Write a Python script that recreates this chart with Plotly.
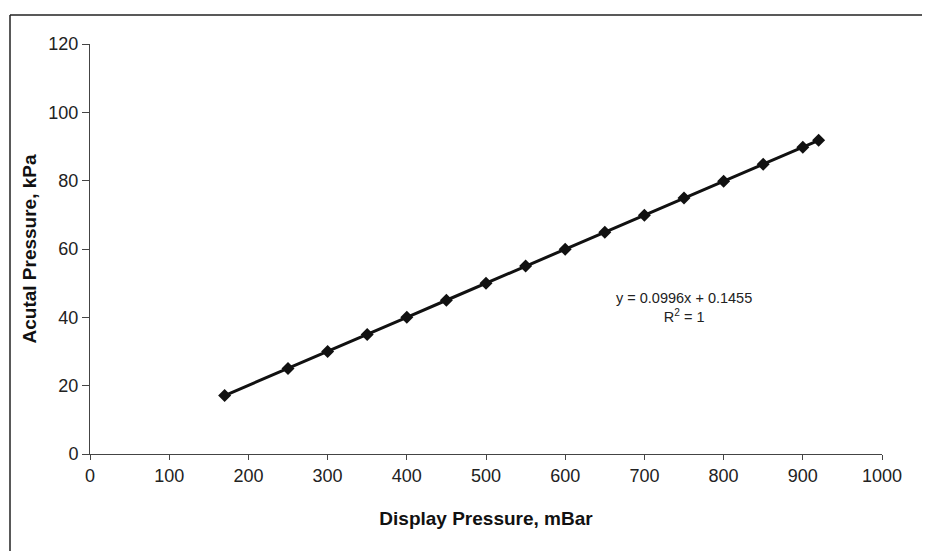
import plotly.graph_objects as go

display_mbar = [170, 250, 300, 350, 400, 450, 500, 550, 600, 650, 700, 750, 800, 850, 900, 920]
actual_kpa = [17.1, 25.0, 30.0, 35.0, 40.0, 45.0, 50.0, 55.0, 59.9, 64.9, 69.9, 74.9, 79.8, 84.8, 89.8, 91.8]

x_ticks = [0, 100, 200, 300, 400, 500, 600, 700, 800, 900, 1000]
y_ticks = [0, 20, 40, 60, 80, 100, 120]

equation_text = "y = 0.0996x + 0.1455<br>R<sup>2</sup> = 1"

# the page body adds an 8px offset
OFF = 8
W, H = 930, 551
L, T = 90 - OFF, 44 - OFF
R = W - (882 - OFF)
B = H - (454 - OFF)
pw, ph = W - L - R, H - T - B

fig = go.Figure()
fig.add_trace(go.Scatter(
    x=display_mbar, y=actual_kpa, mode="lines+markers",
    line=dict(color="#111111", width=3),
    marker=dict(symbol="diamond", size=10, color="#111111"),
    showlegend=False,
))

font = "Arial, Liberation Sans, sans-serif"
fig.update_layout(
    width=W, height=H,
    margin=dict(l=L, r=R, t=T, b=B, pad=0),
    paper_bgcolor="white", plot_bgcolor="white",
    font=dict(family=font, size=18, color="#222222"),
    xaxis=dict(
        range=[0, 1000], tickvals=x_ticks, ticks="outside", ticklen=5,
        tickcolor="#444444", showline=True, linecolor="#444444", linewidth=1,
        showgrid=False, zeroline=False,
        title=dict(text="<b>Display Pressure, mBar</b>", font=dict(size=19, color="#111111"), standoff=27),
    ),
    yaxis=dict(
        range=[0, 120], tickvals=y_ticks, ticks="outside", ticklen=7,
        tickcolor="#444444", showline=True, linecolor="#444444", linewidth=1,
        showgrid=False, zeroline=False,
        title=dict(text="<b>Acutal Pressure, kPa</b>", font=dict(size=19, color="#111111"), standoff=6),
    ),
    annotations=[dict(
        x=750, y=43, xref="x", yref="y", text=equation_text, showarrow=False,
        font=dict(size=14.5, color="#222222"), align="center",
    )],
    shapes=[
        dict(type="line", xref="paper", yref="paper",
             x0=(10 - OFF - L) / pw, x1=(940 - L) / pw,
             y0=1 + (T - (15 - OFF)) / ph, y1=1 + (T - (15 - OFF)) / ph,
             line=dict(color="#222222", width=1.5)),
        dict(type="line", xref="paper", yref="paper",
             x0=(10 - OFF - L) / pw, x1=(10 - OFF - L) / pw,
             y0=1 + (T - (15 - OFF)) / ph, y1=-(B + 10) / ph,
             line=dict(color="#222222", width=1.5)),
    ],
)

fig.write_html("out.html")
